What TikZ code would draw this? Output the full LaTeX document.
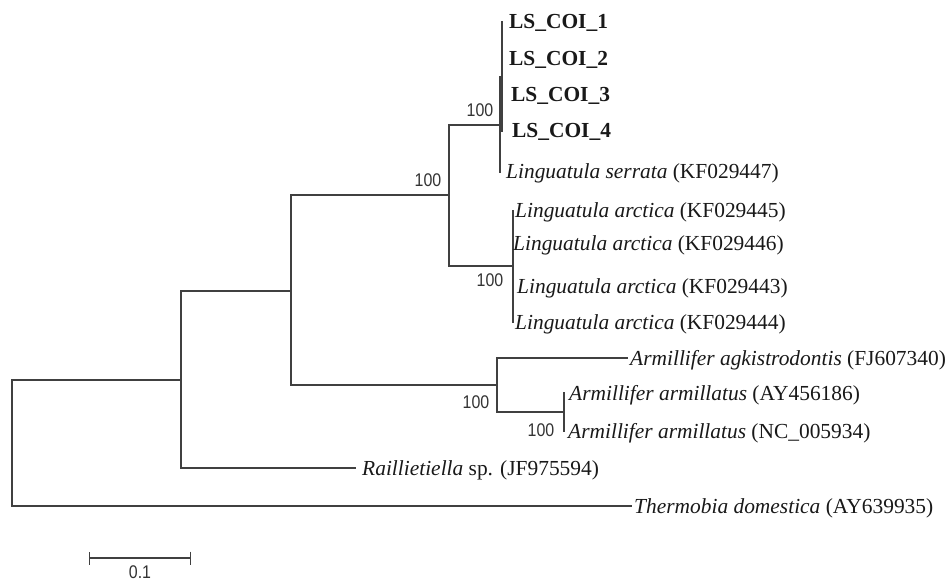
\documentclass[tikz,border=0pt]{standalone}
\usepackage{fontspec}
\setmainfont{Liberation Serif}
\newfontfamily\lsans{Liberation Sans}
\usetikzlibrary{arrows.meta}
\begin{document}
\begin{tikzpicture}[x=1bp,y=-1bp,
  branch/.style={draw=black!75, line width=1.4bp},
  taxon/.style={anchor=base west, inner sep=0pt, font=\fontsize{21.5}{24}\selectfont, text=black!90, yshift=-7bp},
  boldtaxon/.style={taxon, font=\fontsize{21.5}{24}\selectfont\bfseries},
  boot/.style={inner sep=0pt, font=\lsans\fontsize{16}{16}\selectfont, text=black!80},
]
\useasboundingbox[fill=white] (0,0) rectangle (949,582);
% internal nodes
\coordinate (root) at (12,443);
\coordinate (A) at (181,380);
\coordinate (B) at (291,291);
\coordinate (C) at (449,195);
\coordinate (D) at (500,125);
\coordinate (Ds) at (501.8,77);
\coordinate (E) at (513,266);
\coordinate (F) at (497,385);
\coordinate (G) at (564,412);
% tips
\coordinate (t1) at (502.3,22);
\coordinate (t2) at (502.3,59);
\coordinate (t3) at (502.3,95);
\coordinate (t4) at (502.3,131);
\coordinate (tS) at (500.5,172);
\coordinate (a5) at (513.5,211);
\coordinate (a6) at (513.5,244);
\coordinate (a3) at (514,286);
\coordinate (a4) at (513.5,322);
\coordinate (tAg) at (628,358);
\coordinate (tAY) at (565,393);
\coordinate (tNC) at (565,431);
\coordinate (tR) at (356,468);
\coordinate (tT) at (632,506);
% branches
\draw[branch] (root) |- (A);
\draw[branch] (root) |- (tT);
\draw[branch] (A) |- (B);
\draw[branch] (A) |- (tR);
\draw[branch] (B) |- (C);
\draw[branch] (B) |- (F);
\draw[branch] (C) |- (D);
\draw[branch] (C) |- (E);
\draw[branch] (D) |- (Ds);
\draw[branch] (D) |- (tS);
\draw[branch] (Ds) |- (t1);
\draw[branch] (Ds) |- (t2);
\draw[branch] (Ds) |- (t3);
\draw[branch] (Ds) |- (t4);
\draw[branch] (E) |- (a5);
\draw[branch] (E) |- (a6);
\draw[branch] (E) |- (a3);
\draw[branch] (E) |- (a4);
\draw[branch] (F) |- (tAg);
\draw[branch] (F) |- (G);
\draw[branch] (G) |- (tAY);
\draw[branch] (G) |- (tNC);
% labels
\node[boldtaxon] (L1) at (509,22) {LS\_COI\_1};
\node[boldtaxon] (L2) at (509,59) {LS\_COI\_2};
\node[boldtaxon] (L3) at (511,95) {LS\_COI\_3};
\node[boldtaxon] (L4) at (512,131) {LS\_COI\_4};
\node[taxon] (LS) at (506,172) {\textit{Linguatula serrata} (KF029447)};
\node[taxon] (LA5) at (515,211) {\textit{Linguatula arctica} (KF029445)};
\node[taxon] (LA6) at (513,244) {\textit{Linguatula arctica} (KF029446)};
\node[taxon] (LA3) at (517,286) {\textit{Linguatula arctica} (KF029443)};
\node[taxon] (LA4) at (515,322) {\textit{Linguatula arctica} (KF029444)};
\node[taxon] (AAg) at (630,358) {\textit{Armillifer agkistrodontis} (FJ607340)};
\node[taxon] (AAY) at (569,393) {\textit{Armillifer armillatus} (AY456186)};
\node[taxon] (ANC) at (568,431) {\textit{Armillifer armillatus} (NC\_005934)};
\node[taxon] (RS) at (362,468) {\textit{Raillietiella} sp. (JF975594)};
\node[taxon] (TD) at (634,506) {\textit{Thermobia domestica} (AY639935)};
% bootstrap
\node[boot] (bC) at (428,180) {\scalebox{1}[1.15]{100}};
\node[boot] (bD) at (480,110) {\scalebox{1}[1.15]{100}};
\node[boot] (bE) at (490,280) {\scalebox{1}[1.15]{100}};
\node[boot] (bF) at (476,402) {\scalebox{1}[1.15]{100}};
\node[boot] (bG) at (541,430) {\scalebox{1}[1.15]{100}};
% scale bar
\coordinate (sb1) at (89,558);
\coordinate (sb2) at (191,558);
\draw[branch, {Bar[width=13bp]}-{Bar[width=13bp]}] (sb1) -- (sb2);
\node[boot] (sbl) at (140,572.5) {\scalebox{1}[1.15]{0.1}};
\end{tikzpicture}
\end{document}
